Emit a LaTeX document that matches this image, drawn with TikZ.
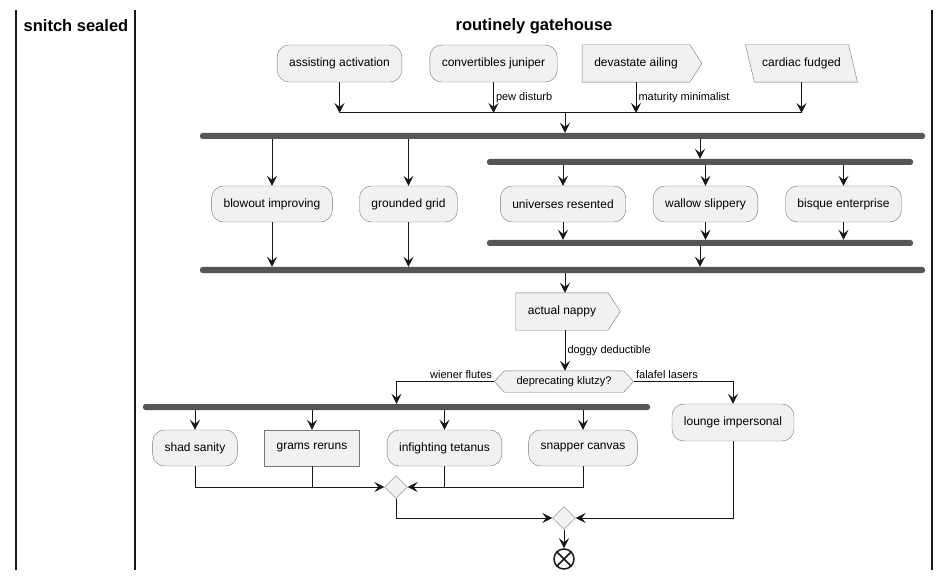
\documentclass[tikz,border=0pt]{standalone}
\usepackage{fontspec}
\setmainfont{Liberation Sans}
\usetikzlibrary{shapes.geometric, arrows.meta, positioning, backgrounds}
\definecolor{ActFill}{RGB}{241,241,241}
\definecolor{ActLine}{RGB}{120,120,120}
\definecolor{BarGrey}{RGB}{85,85,85}
\definecolor{Ink}{RGB}{24,24,24}

\begin{document}
\begin{tikzpicture}[x=1pt, y=-1pt,
          lane/.style={font=\bfseries\fontsize{16.5}{20}\selectfont},
          action/.style={rectangle, draw=ActLine, fill=ActFill, rounded corners=12pt, minimum height=37pt, inner xsep=12pt, font=\fontsize{12}{14}\selectfont},
          plainbox/.style={action, rounded corners=0pt},
          bare/.style={rectangle, minimum height=37pt, inner xsep=12pt, inner ysep=0pt, font=\fontsize{12}{14}\selectfont},
          outline/.style={draw=ActLine, fill=ActFill},
          bar/.style={rectangle, fill=BarGrey, minimum height=6pt, inner sep=0pt, rounded corners=2.5pt},
          merge/.style={diamond, draw=ActLine, fill=ActFill, minimum size=23pt, inner sep=0pt},
          lbl/.style={font=\fontsize{11}{13}\selectfont, inner sep=2pt},
          flow/.style={draw=Ink, line width=1pt},
          arr/.style={flow, -{Stealth[length=10pt, width=10pt, inset=4pt]}}
        ]
          \useasboundingbox (0,0) rectangle (948,580);
          \draw[Ink, line width=1.5pt] (16,10) -- (16,570) (135,10) -- (135,570) (932,10) -- (932,570); % swimlanes
          \node (lane1) [lane] at (76,26) {snitch sealed};
          \node (lane2) [lane] at (534,26) {routinely gatehouse};

          \node (assist) [action] at (339.5,63.5) {assisting activation};
          \node (conv) [action] at (493.5,63.5) {convertibles juniper};
          \node (devast) [bare, minimum width=104pt] at (636,63.5) {devastate ailing};
          \node (cardiac) [bare, minimum width=92pt] at (801.5,63.5) {cardiac fudged};
          \coordinate (collect) at (565,113);

          \node (fork1) [bar, minimum width=725pt] at (562.5,136) {};
          \node (fork2) [bar, minimum width=426pt] at (700,162) {};
          \node (blow) [action, minimum height=36pt] at (272,204) {blowout improving};
          \node (ground) [action, minimum height=36pt] at (408.5,204) {grounded grid};
          \node (univ) [action, minimum height=36pt] at (563,204) {universes resented};
          \node (wallow) [action, minimum height=36pt] at (705.5,204) {wallow slippery};
          \node (bisque) [action, minimum height=36pt] at (843.5,204) {bisque enterprise};
          \node (join2) [bar, minimum width=426pt] at (700,243) {};
          \node (join1) [bar, minimum width=725pt] at (562.5,270) {};

          \node (nappy) [bare, minimum width=88pt] at (562,311.5) {actual nappy};
          \node (choice) [bare, minimum width=98pt, minimum height=21pt, font=\fontsize{11}{13}\selectfont] at (564,381.5) {deprecating klutzy?};

          \node (fork3) [bar, minimum width=507pt] at (396.5,407) {};
          \node (lounge) [action] at (733,422.5) {lounge impersonal};
          \node (shad) [action, minimum height=36pt] at (195,448) {shad sanity};
          \node (grams) [plainbox, minimum height=36pt] at (312,448) {grams reruns};
          \node (infight) [action, minimum height=36pt] at (444.5,448) {infighting tetanus};
          \node (snapper) [action, minimum height=36pt] at (583,448) {snapper canvas};
          \node (merge1) [merge] at (396,487) {};
          \node (merge2) [merge] at (564,518) {};
          \node (stop) [circle, draw=Ink, line width=1.5pt, minimum size=20pt, inner sep=0pt] at (564,559) {};
          \draw[Ink, line width=1.5pt] (stop.north west) -- (stop.south east) (stop.north east) -- (stop.south west);

          % odd outlines go behind their text
          \begin{scope}[on background layer]
            \draw[outline] (devast.north west) -- (devast.north east) -- ([xshift=12pt]devast.east) -- (devast.south east) -- (devast.south west) -- cycle;
            \draw[outline] ([xshift=-4.5pt]cardiac.north west) -- ([xshift=-4.5pt]cardiac.north east) -- ([xshift=4.5pt]cardiac.south east) -- ([xshift=4.5pt]cardiac.south west) -- cycle;
            \draw[outline] (nappy.north west) -- (nappy.north east) -- ([xshift=12pt]nappy.east) -- (nappy.south east) -- (nappy.south west) -- cycle;
            \draw[outline] ([xshift=-10pt]choice.west) -- (choice.north west) -- (choice.north east) -- ([xshift=10pt]choice.east) -- (choice.south east) -- (choice.south west) -- cycle;
          \end{scope}

          \draw[arr] (assist) -- (assist |- collect);
          \draw[arr] (conv) -- node[lbl, right] {pew disturb} (conv |- collect);
          \draw[arr] (devast) -- node[lbl, right] {maturity minimalist} (devast |- collect);
          \draw[arr] (cardiac) -- (cardiac |- collect);
          \draw[flow] (assist |- collect) -- (cardiac |- collect);
          \draw[arr] (collect) -- (collect |- fork1.north);

          \draw[arr] (blow |- fork1.south) -- (blow);
          \draw[arr] (ground |- fork1.south) -- (ground);
          \draw[arr] (fork2 |- fork1.south) -- (fork2);
          \draw[arr] (univ |- fork2.south) -- (univ);
          \draw[arr] (wallow |- fork2.south) -- (wallow);
          \draw[arr] (bisque |- fork2.south) -- (bisque);
          \draw[arr] (univ) -- (univ |- join2.north);
          \draw[arr] (wallow) -- (wallow |- join2.north);
          \draw[arr] (bisque) -- (bisque |- join2.north);
          \draw[arr] (join2) -- (join2 |- join1.north);
          \draw[arr] (blow) -- (blow |- join1.north);
          \draw[arr] (ground) -- (ground |- join1.north);

          \draw[arr] (collect |- join1.south) -- (collect |- nappy.north);
          \draw[arr] (collect |- nappy.south) -- node[lbl, right] {doggy deductible} (collect |- choice.north);
          \draw[arr] ([xshift=-10pt]choice.west) -| node[lbl, pos=0, anchor=south east] {wiener flutes} (fork3.north);
          \draw[arr] ([xshift=10pt]choice.east) -| node[lbl, pos=0, anchor=south west] {falafel lasers} (lounge);

          \draw[arr] (shad |- fork3.south) -- (shad);
          \draw[arr] (grams |- fork3.south) -- (grams);
          \draw[arr] (infight |- fork3.south) -- (infight);
          \draw[arr] (snapper |- fork3.south) -- (snapper);
          \draw[arr] (shad) |- (merge1);
          \draw[flow] (grams) -- (grams |- merge1);
          \draw[arr] (infight) |- (merge1);
          \draw[flow] (snapper) |- (infight |- merge1);
          \draw[arr] (merge1) |- (merge2);
          \draw[arr] (lounge) |- (merge2);
          \draw[arr] (merge2) -- (stop);
        \end{tikzpicture}
\end{document}
